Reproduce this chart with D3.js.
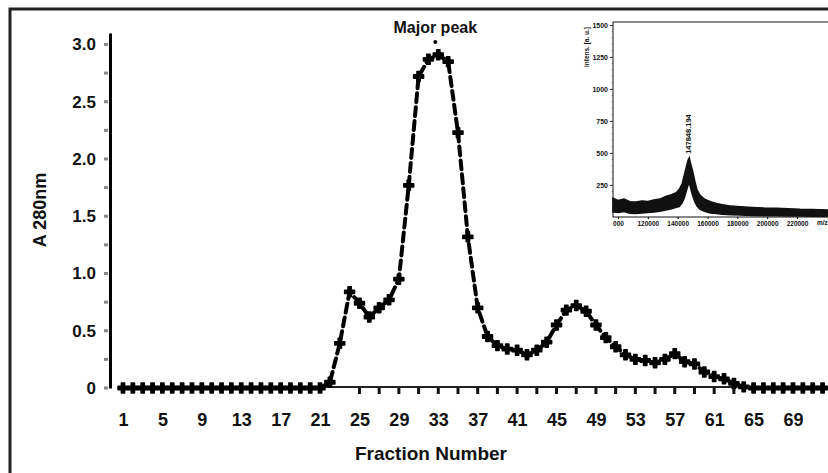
<!DOCTYPE html>
<html>
<head>
<meta charset="utf-8">
<script src="https://cdn.jsdelivr.net/npm/d3@7"></script>
<style>
  html, body { margin: 0; padding: 0; background: #fff; }
  svg text { font-family: "Liberation Sans", Arial, sans-serif; font-weight: bold; fill: #111; }
  .ins text { font-family: "Liberation Sans Narrow", "Liberation Sans", Arial, sans-serif; }
</style>
</head>
<body>
<div id="chart"></div>
<script>
// absorbance at 280 nm, fractions 1..72
const fractions = d3.range(1, 73);
const absorbance = [
  0, 0, 0, 0, 0, 0, 0, 0, 0, 0,
  0, 0, 0, 0, 0, 0, 0, 0, 0, 0,
  0, 0.05, 0.39, 0.84, 0.74, 0.62, 0.70, 0.77, 0.95, 1.77,
  2.72, 2.87, 2.91, 2.85, 2.23, 1.32, 0.70, 0.45, 0.37, 0.34,
  0.33, 0.29, 0.33, 0.40, 0.55, 0.68, 0.72, 0.67, 0.55, 0.44,
  0.36, 0.29, 0.25, 0.24, 0.22, 0.25, 0.30, 0.23, 0.21, 0.14,
  0.10, 0.08, 0.04, 0.01, 0, 0, 0, 0, 0, 0,
  0, 0
];
const xTickLabels = [1, 5, 9, 13, 17, 21, 25, 29, 33, 37, 41, 45, 49, 53, 57, 61, 65, 69];
const yTickLabels = [0, 0.5, 1.0, 1.5, 2.0, 2.5, 3.0];
const peakFraction = 33;

// inset MALDI spectrum (upper / lower edge of the noisy trace)
const msMz    = [96600, 100000, 104000, 108000, 112000, 116000, 120000, 124000, 128000, 132000,
                 136000, 139000, 141000, 143000, 144500, 146000, 147000, 147800, 148600, 150000,
                 151500, 153000, 155000, 158000, 162000, 166000, 170000, 176000, 182000, 190000,
                 198000, 206000, 214000, 222000, 230000, 241000];
const msUpper = [146, 130, 140, 120, 118, 125, 122, 133, 140, 160,
                 175, 190, 215, 260, 330, 400, 445, 462, 420, 360,
                 280, 210, 170, 140, 120, 105, 95, 85, 80, 75,
                 70, 68, 65, 60, 58, 55];
const msLower = [40, 35, 42, 30, 28, 32, 35, 40, 45, 55,
                 65, 75, 82, 110, 150, 210, 250, 270, 230, 170,
                 120, 85, 60, 45, 32, 28, 22, 18, 15, 12,
                 10, 9, 8, 8, 6, 4];
const msYTicks = [250, 500, 750, 1000, 1250, 1500];
const msXTicks = [100000, 120000, 140000, 160000, 180000, 200000, 220000];
const msPeakLabel = "147848.194";
const msPeakMz = 147848;

const W = 828, H = 473;
const svg = d3.select("#chart").append("svg")
  .attr("width", W).attr("height", H);

// outer frame (right / bottom edges fall outside the picture)
svg.append("rect")
  .attr("x", 10).attr("y", 9).attr("width", 900).attr("height", 600)
  .attr("fill", "none").attr("stroke", "#222").attr("stroke-width", 3);

// scales
const x = d3.scaleLinear().domain([1, 69]).range([123, 793]);
const y = d3.scaleLinear().domain([0, 3.1]).range([388, 33]);

// y axis
const yAxis = svg.append("g")
  .attr("transform", "translate(110,0)")
  .call(d3.axisLeft(y).tickValues(yTickLabels).tickSize(0).tickPadding(14)
    .tickFormat(d => d === 0 ? "0" : d3.format(".1f")(d)));
yAxis.select(".domain").attr("stroke", "#000").attr("stroke-width", 3);
yAxis.selectAll("text").attr("font-size", 17);

// small grey minor ticks on the y axis
svg.append("g").selectAll("line")
  .data(d3.range(0, 3.01, 0.25))
  .enter().append("line")
  .attr("x1", 104).attr("x2", 108)
  .attr("y1", d => y(d)).attr("y2", d => y(d))
  .attr("stroke", "#888").attr("stroke-width", 3);

// x baseline + stubby ticks
svg.append("line")
  .attr("x1", x(21)).attr("x2", x(63.4))
  .attr("y1", y(0) - 1).attr("y2", y(0) - 1)
  .attr("stroke", "#222").attr("stroke-width", 2);
svg.append("g").selectAll("line")
  .data(d3.range(25, 64, 2))
  .enter().append("line")
  .attr("x1", d => x(d)).attr("x2", d => x(d))
  .attr("y1", y(0)).attr("y2", y(0) + 6)
  .attr("stroke", "#111").attr("stroke-width", 3);

const xAxis = svg.append("g")
  .attr("transform", `translate(0,${y(0)})`)
  .call(d3.axisBottom(x).tickValues(xTickLabels).tickSize(0).tickPadding(25));
xAxis.select(".domain").remove();
xAxis.selectAll("text").attr("font-size", 18);

// axis titles
svg.append("text")
  .attr("x", 431).attr("y", 460)
  .attr("text-anchor", "middle").attr("font-size", 19)
  .text("Fraction Number");
svg.append("text")
  .attr("transform", "translate(46,210) rotate(-90)")
  .attr("text-anchor", "middle").attr("font-size", 18)
  .text("A 280nm");

// elution profile
const data = fractions.map((f, i) => ({f: f, v: absorbance[i]}));
const line = d3.line().x(d => x(d.f)).y(d => y(d.v));
svg.append("path")
  .datum(data)
  .attr("d", line)
  .attr("fill", "none")
  .attr("stroke", "#000")
  .attr("stroke-width", 4)
  .attr("stroke-linecap", "round")
  .attr("stroke-dasharray", "9,5");

svg.append("g").selectAll("path")
  .data(data)
  .enter().append("path")
  .attr("transform", d => `translate(${x(d.f)},${y(d.v)})`)
  .attr("d", d3.symbol().type(d3.symbolCross).size(55))
  .attr("fill", "#000")
  .attr("stroke", "#000")
  .attr("stroke-width", 1.5)
  .attr("stroke-linejoin", "round");

// major peak annotation
svg.append("text")
  .attr("x", x(peakFraction) - 3).attr("y", 33)
  .attr("text-anchor", "middle").attr("font-size", 16)
  .text("Major peak");
svg.append("circle")
  .attr("cx", x(peakFraction) - 3).attr("cy", 42).attr("r", 2)
  .attr("fill", "#000");

// ---------------- inset spectrum ----------------
const ins = svg.append("g").attr("class", "ins");
const mx = d3.scaleLinear().domain([100000, 220000]).range([618, 797]);
const my = d3.scaleLinear().domain([0, 1500]).range([217, 25]);
const insLeft = 613, insTop = 22, insBottom = 217;

ins.append("rect")
  .attr("x", insLeft).attr("y", insTop).attr("width", 300).attr("height", insBottom - insTop)
  .attr("fill", "#fff").attr("stroke", "#111").attr("stroke-width", 1);

const area = d3.area()
  .x((d, i) => mx(msMz[i]))
  .y0((d, i) => my(msLower[i]))
  .y1((d, i) => my(msUpper[i]));
ins.append("path")
  .datum(msMz)
  .attr("d", area)
  .attr("fill", "#111")
  .attr("stroke", "#111")
  .attr("stroke-width", 1.5);

const msYAxis = ins.append("g")
  .attr("transform", `translate(${insLeft},0)`)
  .call(d3.axisLeft(my).tickValues(msYTicks).tickSize(3).tickPadding(2)
    .tickFormat(d3.format("d")));
msYAxis.select(".domain").remove();
msYAxis.selectAll("line").attr("stroke", "#333");
msYAxis.selectAll("text").attr("font-size", 7);

ins.append("g").selectAll("line")
  .data(d3.range(50, 1500, 50))
  .enter().append("line")
  .attr("x1", insLeft - 1.5).attr("x2", insLeft)
  .attr("y1", d => my(d)).attr("y2", d => my(d))
  .attr("stroke", "#555").attr("stroke-width", 0.6);

const msXAxis = ins.append("g")
  .attr("transform", `translate(0,${insBottom})`)
  .call(d3.axisBottom(mx).tickValues(msXTicks).tickSize(2).tickPadding(2)
    .tickFormat(d => d === 100000 ? "000" : d3.format("d")(d)));
msXAxis.select(".domain").remove();
msXAxis.selectAll("text").attr("font-size", 6.5);

ins.append("text")
  .attr("x", 817).attr("y", 225)
  .attr("font-size", 6.5)
  .text("m/z");

ins.append("text")
  .attr("transform", "translate(589,47) rotate(-90)")
  .attr("text-anchor", "middle").attr("font-size", 6.5)
  .text("intens. [a. u.]");

ins.append("text")
  .attr("transform", `translate(${mx(msPeakMz) + 2},${my(msUpper[17]) - 4}) rotate(-90)`)
  .attr("font-size", 7.5)
  .text(msPeakLabel);
</script>
</body>
</html>
